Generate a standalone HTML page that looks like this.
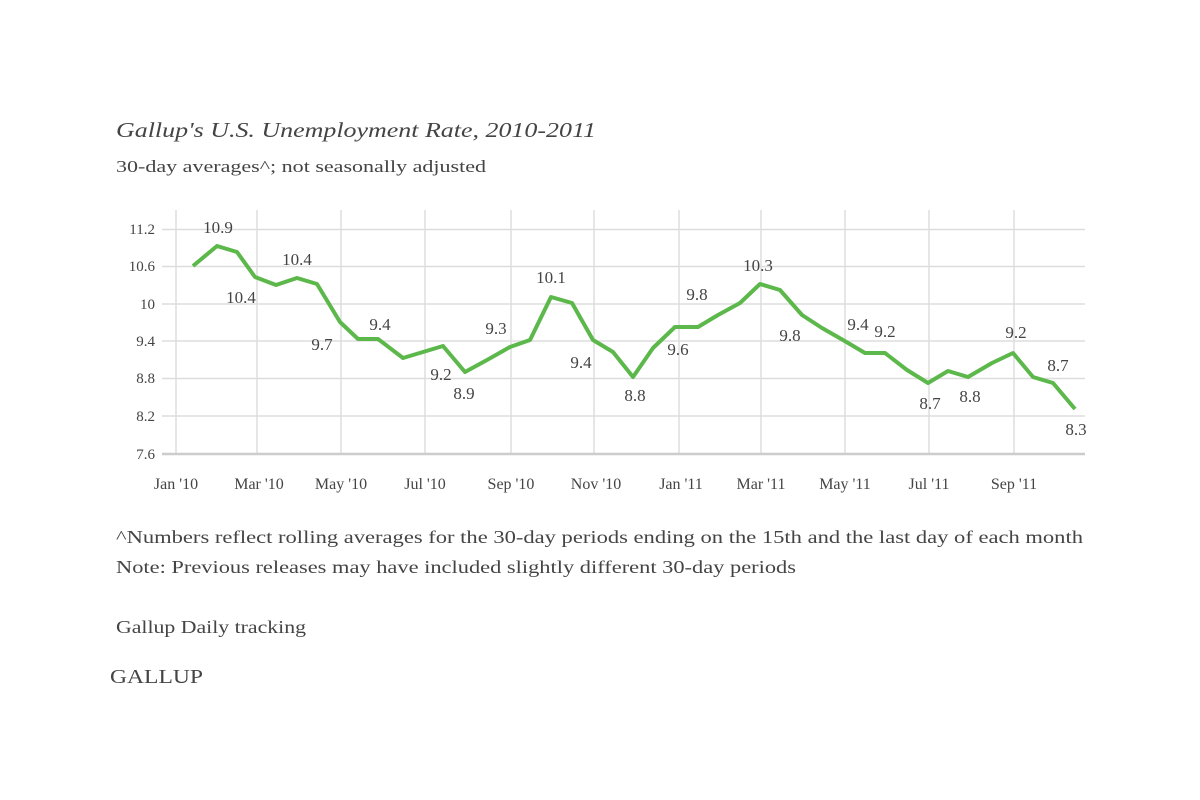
<!DOCTYPE html>
<html><head><meta charset="utf-8"><style>
html,body{margin:0;padding:0;background:#fff;}
svg{display:block;}
text{font-family:"Liberation Serif",serif;fill:#444;}
</style></head><body>
<svg width="1200" height="800" viewBox="0 0 1200 800">
<text x="116" y="137" font-size="21" font-style="italic" fill="#333" textLength="480" lengthAdjust="spacingAndGlyphs">Gallup's U.S. Unemployment Rate, 2010-2011</text>
<text x="116" y="172" font-size="17" fill="#555" textLength="370" lengthAdjust="spacingAndGlyphs">30-day averages^; not seasonally adjusted</text>
<g stroke="#ddd" stroke-width="1.5">
<line x1="162" y1="229.5" x2="1085" y2="229.5"/>
<line x1="162" y1="266.5" x2="1085" y2="266.5"/>
<line x1="162" y1="304" x2="1085" y2="304"/>
<line x1="162" y1="341" x2="1085" y2="341"/>
<line x1="162" y1="378.5" x2="1085" y2="378.5"/>
<line x1="162" y1="416" x2="1085" y2="416"/>
<line x1="176" y1="210" x2="176" y2="454"/>
<line x1="257" y1="210" x2="257" y2="454"/>
<line x1="341" y1="210" x2="341" y2="454"/>
<line x1="425" y1="210" x2="425" y2="454"/>
<line x1="511" y1="210" x2="511" y2="454"/>
<line x1="594" y1="210" x2="594" y2="454"/>
<line x1="679" y1="210" x2="679" y2="454"/>
<line x1="761" y1="210" x2="761" y2="454"/>
<line x1="845" y1="210" x2="845" y2="454"/>
<line x1="929" y1="210" x2="929" y2="454"/>
<line x1="1014" y1="210" x2="1014" y2="454"/>
</g>
<line x1="162" y1="454" x2="1085" y2="454" stroke="#ccc" stroke-width="2.5"/>
<g font-size="15" text-anchor="end">
<text x="155" y="234">11.2</text><text x="155" y="271">10.6</text><text x="155" y="309">10</text>
<text x="155" y="346">9.4</text><text x="155" y="383">8.8</text><text x="155" y="421">8.2</text><text x="155" y="459">7.6</text>
</g>
<g font-size="16" text-anchor="middle" fill="#333">
<text x="176" y="489">Jan '10</text><text x="259" y="489">Mar '10</text><text x="341" y="489">May '10</text>
<text x="425" y="489">Jul '10</text><text x="511" y="489">Sep '10</text><text x="596" y="489">Nov '10</text>
<text x="681" y="489">Jan '11</text><text x="761" y="489">Mar '11</text><text x="845" y="489">May '11</text>
<text x="929" y="489">Jul '11</text><text x="1014" y="489">Sep '11</text>
</g>
<polyline fill="none" stroke="#5cb84a" stroke-width="4" stroke-linejoin="round" points="193,266 217,246 237,252 255,277 276,285 297,278 317,284 340,322 358,339 378,339 403,358 423,352 443,346 465,372 487,360 510,347 530,340 551,297 572,303 593,340 613,352 633,377 653,348 675,327 698,327 718,315 740,303 760,284 780,290 802,315 822,328 843,340 865,353 885,353 907,370 928,383 948,371 968,377 992,363 1013,353 1033,377 1053,383 1075,409"/>
<g font-size="17" text-anchor="middle" fill="#444">
<text x="218" y="233">10.9</text><text x="241" y="303">10.4</text><text x="297" y="265">10.4</text>
<text x="322" y="350">9.7</text><text x="380" y="330">9.4</text><text x="441" y="380">9.2</text>
<text x="464" y="399">8.9</text><text x="496" y="334">9.3</text><text x="551" y="283">10.1</text>
<text x="581" y="368">9.4</text><text x="635" y="401">8.8</text><text x="678" y="355">9.6</text>
<text x="697" y="300">9.8</text><text x="758" y="271">10.3</text><text x="790" y="341">9.8</text>
<text x="858" y="330">9.4</text><text x="885" y="337">9.2</text><text x="930" y="409">8.7</text>
<text x="970" y="402">8.8</text><text x="1016" y="338">9.2</text><text x="1058" y="371">8.7</text>
<text x="1076" y="435">8.3</text>
</g>
<text x="116" y="543" font-size="18" fill="#444" textLength="967" lengthAdjust="spacingAndGlyphs">^Numbers reflect rolling averages for the 30-day periods ending on the 15th and the last day of each month</text>
<text x="116" y="573" font-size="18" fill="#444" textLength="680" lengthAdjust="spacingAndGlyphs">Note: Previous releases may have included slightly different 30-day periods</text>
<text x="116" y="633" font-size="18" fill="#555" textLength="190" lengthAdjust="spacingAndGlyphs">Gallup Daily tracking</text>
<text x="110" y="683" font-size="20" fill="#555" textLength="93" lengthAdjust="spacingAndGlyphs">GALLUP</text>
</svg>
</body></html>
